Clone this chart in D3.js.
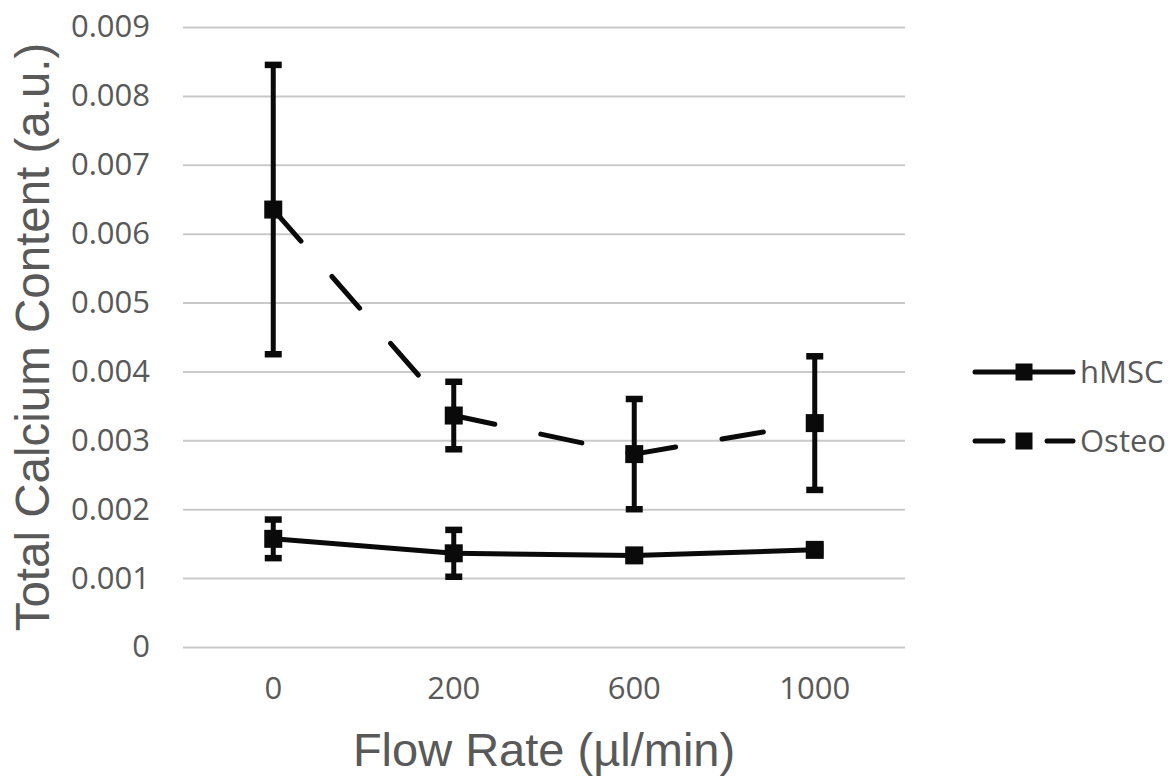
<!DOCTYPE html>
<html>
<head>
<meta charset="utf-8">
<script src="https://cdn.jsdelivr.net/npm/d3@7"></script>
<style>
  body { margin: 0; background: #fff; }
  svg { display: block; }
</style>
</head>
<body>
<div id="chart"></div>
<script>
// flow rates (categories)
var flowRates = ["0", "200", "600", "1000"];

// hMSC series
var hmscMean = [0.00157, 0.00136, 0.00133, 0.00141];
var hmscErr  = [0.00028, 0.00034, 0.00006, 0.00004];

// Osteo series
var osteoMean = [0.00635, 0.00336, 0.00280, 0.00325];
var osteoErr  = [0.00210, 0.00049, 0.00080, 0.00097];

var yTicks = [0, 0.001, 0.002, 0.003, 0.004, 0.005, 0.006, 0.007, 0.008, 0.009];

var width = 1174, height = 779;
var margin = {top: 27, right: 269, bottom: 132, left: 183};

var svg = d3.select("#chart").append("svg")
    .attr("width", width)
    .attr("height", height);

var x = d3.scaleBand()
    .domain(flowRates)
    .range([margin.left, width - margin.right])
    .padding(0);

var y = d3.scaleLinear()
    .domain([0, 0.009])
    .range([height - margin.bottom, margin.top]);

var textColor = "#595959";
var tickFont = "'Open Sans', 'Noto Sans', sans-serif";

// gridlines + y labels
var yAxis = d3.axisLeft(y)
    .tickValues(yTicks)
    .tickSize(-(width - margin.left - margin.right))
    .tickPadding(33)
    .tickFormat(function(d) { return d === 0 ? "0" : d3.format(".3f")(d); });

var gy = svg.append("g")
    .attr("transform", "translate(" + margin.left + ",0)")
    .call(yAxis);
gy.select(".domain").remove();
gy.selectAll(".tick line")
    .attr("stroke", "#c9c9c9")
    .attr("stroke-width", 2);
gy.selectAll(".tick text")
    .attr("fill", textColor)
    .style("font-family", tickFont)
    .style("font-size", "31px");

// x labels
var xAxis = d3.axisBottom(x).tickSize(0).tickPadding(30);
var gx = svg.append("g")
    .attr("transform", "translate(0," + (height - margin.bottom) + ")")
    .call(xAxis);
gx.select(".domain").remove();
gx.selectAll(".tick text")
    .attr("fill", textColor)
    .style("font-family", tickFont)
    .style("font-size", "31px");

// axis titles
svg.append("text")
    .attr("transform", "translate(49," + ((margin.top + height - margin.bottom) / 2) + ") rotate(-90)")
    .attr("text-anchor", "middle")
    .attr("fill", textColor)
    .style("font-family", "'Liberation Sans', Arial, sans-serif")
    .style("font-size", "47.5px")
    .text("Total Calcium Content (a.u.)");

svg.append("text")
    .attr("x", (margin.left + width - margin.right) / 2)
    .attr("y", 766)
    .attr("text-anchor", "middle")
    .attr("fill", textColor)
    .style("font-family", "'Liberation Sans', Arial, sans-serif")
    .style("font-size", "47px")
    .text("Flow Rate (\u00b5l/min)");

function cx(d) { return x(d) + x.bandwidth() / 2; }

var series = [
    {name: "hMSC", mean: hmscMean, err: hmscErr, dash: null},
    {name: "Osteo", mean: osteoMean, err: osteoErr, dash: "42,47"}
];

var lineW = 5, capW = 17, markerS = 18;

series.forEach(function(s) {
    var g = svg.append("g").attr("class", "series");
    var pts = flowRates.map(function(f, i) { return {f: f, v: s.mean[i], e: s.err[i]}; });

    // line segments (dash pattern restarts at each point)
    for (var i = 0; i < pts.length - 1; i++) {
        g.append("path")
            .attr("d", d3.line().x(function(d) { return cx(d.f); }).y(function(d) { return y(d.v); })([pts[i], pts[i + 1]]))
            .attr("fill", "none")
            .attr("stroke", "#0a0a0a")
            .attr("stroke-width", lineW)
            .attr("stroke-linecap", "round")
            .attr("stroke-dasharray", s.dash);
    }

    // error bars
    var eb = g.selectAll(".err").data(pts).enter().append("g");
    eb.append("line")
        .attr("x1", function(d) { return cx(d.f); })
        .attr("x2", function(d) { return cx(d.f); })
        .attr("y1", function(d) { return y(d.v + d.e); })
        .attr("y2", function(d) { return y(d.v - d.e); })
        .attr("stroke", "#0a0a0a")
        .attr("stroke-width", lineW);
    [1, -1].forEach(function(sign) {
        eb.append("line")
            .attr("x1", function(d) { return cx(d.f) - capW / 2; })
            .attr("x2", function(d) { return cx(d.f) + capW / 2; })
            .attr("y1", function(d) { return y(d.v + sign * d.e); })
            .attr("y2", function(d) { return y(d.v + sign * d.e); })
            .attr("stroke", "#0a0a0a")
            .attr("stroke-width", 6.5);
    });

    // markers
    g.selectAll("rect").data(pts).enter().append("rect")
        .attr("x", function(d) { return cx(d.f) - markerS / 2; })
        .attr("y", function(d) { return y(d.v) - markerS / 2; })
        .attr("width", markerS)
        .attr("height", markerS)
        .attr("fill", "#0a0a0a");
});

// legend
var legend = svg.append("g");
series.forEach(function(s, i) {
    var ly = 372 + i * 69;
    var lg = legend.append("g").attr("transform", "translate(0," + ly + ")");
    if (s.dash) {
        lg.append("line").attr("x1", 975).attr("x2", 1003).attr("y1", 0).attr("y2", 0)
            .attr("stroke", "#0a0a0a").attr("stroke-width", lineW).attr("stroke-linecap", "round");
        lg.append("line").attr("x1", 1047).attr("x2", 1073).attr("y1", 0).attr("y2", 0)
            .attr("stroke", "#0a0a0a").attr("stroke-width", lineW).attr("stroke-linecap", "round");
    } else {
        lg.append("line").attr("x1", 975).attr("x2", 1073).attr("y1", 0).attr("y2", 0)
            .attr("stroke", "#0a0a0a").attr("stroke-width", lineW).attr("stroke-linecap", "round");
    }
    lg.append("rect")
        .attr("x", 1024 - 8.5).attr("y", -8.5).attr("width", 17).attr("height", 17)
        .attr("fill", "#0a0a0a");
    lg.append("text")
        .attr("x", 1080)
        .attr("y", 0)
        .attr("dy", "0.35em")
        .attr("fill", textColor)
        .style("font-family", tickFont)
        .style("font-size", "31px")
        .text(s.name);
});
</script>
</body>
</html>
